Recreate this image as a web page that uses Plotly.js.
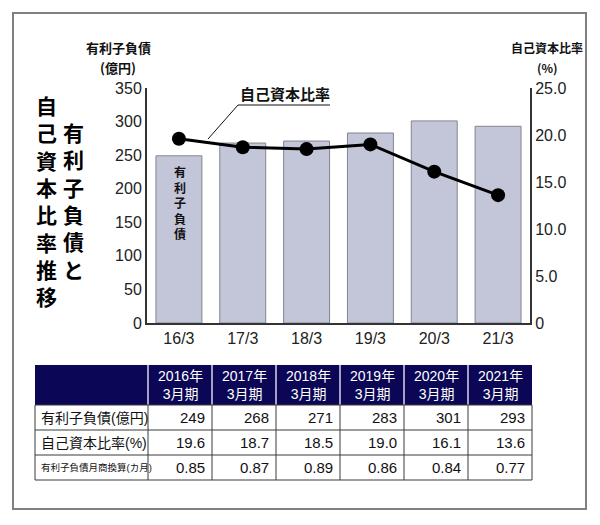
<!DOCTYPE html>
<html>
<head>
<meta charset="utf-8">
<script src="https://cdn.plot.ly/plotly-3.0.1.min.js"></script>
<style>
  body { margin: 0; background: #fff; }
  #chart { width: 600px; height: 525px; }
</style>
</head>
<body>
<div id="chart"></div>
<script>
// chart values
const periods = ['16/3', '17/3', '18/3', '19/3', '20/3', '21/3'];
const headerPeriods = ['2016年<br>3月期', '2017年<br>3月期', '2018年<br>3月期', '2019年<br>3月期', '2020年<br>3月期', '2021年<br>3月期'];
const debt = [249, 268, 271, 283, 301, 293];
const equityRatio = [19.6, 18.7, 18.5, 19.0, 16.1, 13.6];
const monthsOfSales = [0.85, 0.87, 0.89, 0.86, 0.84, 0.77];
const rowLabels = ['有利子負債(億円)', '自己資本比率(%)', '有利子負債月商換算(カ月)'];
const ratioTickVals = [0, 5, 10, 15, 20, 25];
const ratioTickText = ['0', '5.0', '10.0', '15.0', '20.0', '25.0'];
const titleCol1 = '有利子負債と';
const titleCol2 = '自己資本比率推移';

const W = 600, H = 525;
const FONT = 'Liberation Sans, Noto Sans CJK JP, sans-serif';
const JP = 'Noto Sans CJK JP, sans-serif';

// pixel -> paper helpers
const px = x => x / W;
const py = y => 1 - y / H;

const barTrace = {
    type: 'bar',
    x: periods,
    y: debt,
    width: 0.72,
    marker: { color: '#c3c5d9', line: { color: '#85858f', width: 1 } },
    hoverinfo: 'skip'
};

const lineTrace = {
    type: 'scatter',
    mode: 'lines+markers',
    x: periods,
    y: equityRatio,
    yaxis: 'y2',
    line: { color: '#000', width: 3 },
    marker: { color: '#000', size: 14 },
    hoverinfo: 'skip'
};

const annotations = [];
const shapes = [];

function note(text, x, y, size, opts) {
    annotations.push(Object.assign({
        text: text, x: px(x), y: py(y), xref: 'paper', yref: 'paper',
        xanchor: 'center', yanchor: 'middle', showarrow: false,
        font: { family: JP, size: size, color: '#111', weight: 700 }
    }, opts || {}));
}

function line(x0, y0, x1, y1, color, width) {
    shapes.push({ type: 'line', xref: 'paper', yref: 'paper',
        x0: px(x0), y0: py(y0), x1: px(x1), y1: py(y1),
        line: { color: color, width: width } });
}

// axis titles, callout, bar label
note('有利子負債', 118, 48, 13);
note('(億円)', 118, 67, 13);
note('自己資本比率', 547, 48, 12);
note('(%)', 547, 67, 12);
note('自己資本比率', 285, 94, 15);
note('有<br>利<br>子<br>負<br>債', 180, 202, 12);

// vertical title: glyphs stacked with line breaks
const vfont = { family: JP, size: 21, color: '#000', weight: 700 };
note(titleCol1.split('').join('<br>'), 73, 200, 21, { font: vfont });
note(titleCol2.split('').join('<br>'), 46, 201, 21, { font: vfont });

// outer frame
shapes.push({ type: 'rect', xref: 'paper', yref: 'paper', x0: px(13), x1: px(586), y0: py(509), y1: py(13),
    line: { color: '#808080', width: 2 } });

// callout underline + leader
line(238, 105, 330, 105, '#111', 1);
line(238, 105, 208, 139, '#111', 1);

// data table drawn from the arrays
const colEdges = [35, 148];
for (let i = 0; i < periods.length; i++) colEdges.push(148 + 64 * (i + 1));
const headTop = 365, headBot = 405, rowH = 25;
const tableRight = colEdges[colEdges.length - 1];
const tableBot = headBot + rowH * rowLabels.length;

shapes.push({ type: 'rect', xref: 'paper', yref: 'paper', x0: px(35), x1: px(tableRight),
    y0: py(headBot), y1: py(headTop), fillcolor: '#0b0656', line: { width: 0 } });
for (let i = 1; i < colEdges.length - 1; i++) {
    line(colEdges[i], headTop, colEdges[i], headBot, '#d8d8e8', 1.5);
}
for (let r = 0; r <= rowLabels.length; r++) {
    line(35, headBot + r * rowH, tableRight, headBot + r * rowH, '#3a3a3a', 1);
}
for (let i = 0; i < colEdges.length; i++) {
    line(colEdges[i], headBot, colEdges[i], tableBot, '#3a3a3a', 1);
}

for (let i = 0; i < periods.length; i++) {
    const xc = (colEdges[i + 1] + colEdges[i + 2]) / 2;
    note(headerPeriods[i], xc, (headTop + headBot) / 2, 14,
        { font: { family: FONT, size: 14, color: '#fff' } });
}

const rowValues = [
    debt.map(v => String(v)),
    equityRatio.map(v => v.toFixed(1)),
    monthsOfSales.map(v => v.toFixed(2))
];
const labelSizes = [14, 14, 9.5];
for (let r = 0; r < rowLabels.length; r++) {
    const yc = headBot + rowH * r + rowH / 2;
    note(rowLabels[r], 39, yc, labelSizes[r],
        { xanchor: 'left', font: { family: FONT, size: labelSizes[r], color: '#111' } });
    for (let i = 0; i < periods.length; i++) {
        note(rowValues[r][i], colEdges[i + 2] - 5, yc, 15,
            { xanchor: 'right', font: { family: FONT, size: 15, color: '#111' } });
    }
}

const layout = {
    width: W,
    height: H,
    margin: { l: 0, r: 0, t: 0, b: 0 },
    paper_bgcolor: '#fff',
    plot_bgcolor: '#fff',
    showlegend: false,
    font: { family: FONT, color: '#222' },
    xaxis: {
        domain: [px(147), px(530)],
        type: 'category',
        range: [-0.5, 5.5],
        showline: true, linecolor: '#333', linewidth: 2,
        ticks: '', showgrid: false, zeroline: false,
        tickfont: { size: 16, color: '#222' }
    },
    yaxis: {
        domain: [py(323), py(88)],
        range: [0, 350], dtick: 50,
        showline: true, linecolor: '#333', linewidth: 2,
        ticks: '', showgrid: false, zeroline: false,
        tickfont: { size: 16, color: '#222' }
    },
    yaxis2: {
        overlaying: 'y', side: 'right', anchor: 'x',
        range: [0, 25],
        tickvals: ratioTickVals, ticktext: ratioTickText,
        showline: true, linecolor: '#333', linewidth: 2,
        ticks: '', showgrid: false, zeroline: false,
        tickfont: { size: 16, color: '#222' }
    },
    annotations: annotations,
    shapes: shapes
};

Plotly.newPlot('chart', [barTrace, lineTrace], layout, { staticPlot: true });
</script>
</body>
</html>
